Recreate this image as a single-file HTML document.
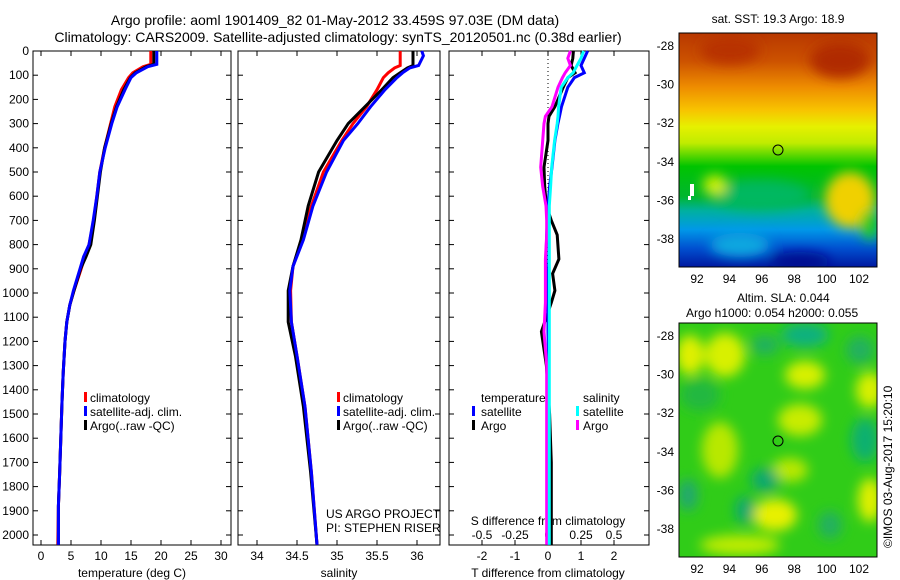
<!DOCTYPE html>
<html><head><meta charset="utf-8"><style>
html,body{margin:0;padding:0;background:#fff;}
svg{display:block;font-family:"Liberation Sans",sans-serif;}
text{font-size:12px;fill:#000;}
</style></head><body>
<svg id="fig" width="900" height="580" viewBox="0 0 900 580">
<defs>
<clipPath id="c1"><rect x="679" y="33" width="198" height="234"/></clipPath>
<clipPath id="c2"><rect x="679" y="323" width="198" height="234"/></clipPath>
<filter id="bl" x="-20%" y="-20%" width="140%" height="140%"><feGaussianBlur stdDeviation="6"/></filter>
<linearGradient id="sst" x1="0" y1="33" x2="0" y2="267" gradientUnits="userSpaceOnUse">
<stop offset="0" stop-color="#b83800"/><stop offset="0.12" stop-color="#cc5200"/>
<stop offset="0.23" stop-color="#ee8c00"/><stop offset="0.33" stop-color="#f8c400"/>
<stop offset="0.40" stop-color="#e6f000"/><stop offset="0.47" stop-color="#c0ec00"/>
<stop offset="0.52" stop-color="#60d800"/><stop offset="0.57" stop-color="#00c400"/>
<stop offset="0.70" stop-color="#00b630"/><stop offset="0.76" stop-color="#00b0a0"/>
<stop offset="0.84" stop-color="#0098e8"/><stop offset="0.92" stop-color="#0050d0"/>
<stop offset="1" stop-color="#0018a0"/></linearGradient>
</defs>
<g>
<text x="335" y="25" text-anchor="middle" style="font-size:14px">Argo profile: aoml 1901409_82 01-May-2012 33.459S 97.03E (DM data)</text>
<text x="338" y="42" text-anchor="middle" style="font-size:14px">Climatology: CARS2009. Satellite-adjusted climatology: synTS_20120501.nc (0.38d earlier)</text>
</g>
<g id="axes"></g>
<g id="lines"></g>
<g>
<rect x="84" y="392" width="3" height="10" fill="#f00"/><text x="90" y="402">climatology</text>
<rect x="84" y="406" width="3" height="10" fill="#00f"/><text x="90" y="416">satellite-adj. clim.</text>
<rect x="84" y="420" width="3" height="10" fill="#000"/><text x="90" y="430">Argo(..raw -QC)</text>
</g>
<g>
<rect x="337" y="392" width="3" height="10" fill="#f00"/><text x="343" y="402">climatology</text>
<rect x="337" y="406" width="3" height="10" fill="#00f"/><text x="343" y="416">satellite-adj. clim.</text>
<rect x="337" y="420" width="3" height="10" fill="#000"/><text x="343" y="430">Argo(..raw -QC)</text>
</g>
<g>
<text x="326" y="518">US ARGO PROJECT</text><text x="326" y="532">PI: STEPHEN RISER</text>
</g>
<g>
<text x="481" y="402">temperature</text><text x="583" y="402">salinity</text>
<rect x="472" y="406" width="3" height="10" fill="#00f"/><text x="481" y="416">satellite</text>
<rect x="472" y="420" width="3" height="10" fill="#000"/><text x="481" y="430">Argo</text>
<rect x="576" y="406" width="3" height="10" fill="#0ff"/><text x="583" y="416">satellite</text>
<rect x="576" y="420" width="3" height="10" fill="#f0f"/><text x="583" y="430">Argo</text>
</g>
<g>
<text x="778" y="23" text-anchor="middle">sat. SST: 19.3 Argo: 18.9</text>
<g clip-path="url(#c1)">
<rect x="679" y="33" width="198" height="234" fill="url(#sst)"/>
<g filter="url(#bl)">
<ellipse cx="840" cy="60" rx="30" ry="18" fill="#b02c00"/>
<ellipse cx="730" cy="50" rx="30" ry="14" fill="#b83000"/>
<ellipse cx="850" cy="200" rx="25" ry="28" fill="#f0d000"/>
<ellipse cx="870" cy="225" rx="10" ry="15" fill="#20c820"/>
<ellipse cx="760" cy="195" rx="50" ry="15" fill="#00b860"/>
<ellipse cx="740" cy="245" rx="30" ry="12" fill="#10a8e0"/>
<ellipse cx="800" cy="262" rx="30" ry="10" fill="#001090"/>
<ellipse cx="715" cy="185" rx="12" ry="10" fill="#d0f000"/>
</g>
<rect x="690" y="184" width="4" height="12" fill="#fff"/><rect x="688" y="196" width="3" height="4" fill="#fff"/>
</g>
<rect x="679" y="33" width="198" height="234" fill="none" stroke="#000"/>
<circle cx="778" cy="150" r="5" fill="none" stroke="#000"/>
</g>
<g>
<text x="737" y="302">Altim. SLA: 0.044</text>
<text x="686" y="317">Argo h1000: 0.054 h2000: 0.055</text>
<g clip-path="url(#c2)">
<rect x="679" y="323" width="198" height="234" fill="#30cc18"/>
<g filter="url(#bl)">
<ellipse cx="690" cy="355" rx="14" ry="20" fill="#e0f000"/>
<ellipse cx="725" cy="355" rx="20" ry="22" fill="#d8f000"/>
<ellipse cx="805" cy="375" rx="20" ry="14" fill="#d8f000"/>
<ellipse cx="870" cy="390" rx="14" ry="18" fill="#d8f000"/>
<ellipse cx="800" cy="420" rx="22" ry="16" fill="#c8ec00"/>
<ellipse cx="720" cy="450" rx="18" ry="28" fill="#b8e800"/>
<ellipse cx="790" cy="470" rx="18" ry="12" fill="#b8e800"/>
<ellipse cx="775" cy="515" rx="22" ry="16" fill="#e8f000"/>
<ellipse cx="870" cy="500" rx="12" ry="22" fill="#e0f000"/>
<ellipse cx="740" cy="545" rx="40" ry="10" fill="#c0ec00"/>
<ellipse cx="805" cy="335" rx="24" ry="12" fill="#10b080"/>
<ellipse cx="765" cy="345" rx="14" ry="10" fill="#20b060"/>
<ellipse cx="860" cy="350" rx="14" ry="14" fill="#20b060"/>
<ellipse cx="865" cy="440" rx="14" ry="22" fill="#10b070"/>
<ellipse cx="765" cy="480" rx="14" ry="12" fill="#10a870"/>
<ellipse cx="745" cy="510" rx="10" ry="14" fill="#10a870"/>
<ellipse cx="688" cy="495" rx="10" ry="16" fill="#20a870"/>
<ellipse cx="830" cy="525" rx="12" ry="14" fill="#20b060"/>
<ellipse cx="700" cy="395" rx="20" ry="16" fill="#20b840"/>
</g>
</g>
<rect x="679" y="323" width="198" height="234" fill="none" stroke="#000"/>
<circle cx="778" cy="441" r="5" fill="none" stroke="#000"/>
</g>
<text transform="translate(892,548) rotate(-90)">©IMOS 03-Aug-2017 15:20:10</text>
</svg>
<script>
const depthT=[0,55,65,90,110,160,230,300,400,500,600,700,800,850,900,990,1050,1120,1200,1330,1450,1600,1750,1880,2040];
const tClim=[18.3,18.3,17.0,15.3,14.6,13.4,12.3,11.6,10.6,9.8,9.3,8.8,8.0,7.3,6.7,5.5,4.8,4.3,4.0,3.7,3.5,3.3,3.1,2.9,2.8];
const tSat=[19.3,19.3,17.8,15.9,15.0,14.0,12.7,11.8,10.7,9.8,9.3,8.7,8.0,7.1,6.5,5.4,4.8,4.3,4.0,3.7,3.5,3.3,3.1,2.9,2.9];
const tArgo=[18.8,18.8,17.5,15.7,14.9,13.8,12.6,11.7,10.6,9.9,9.4,8.9,8.3,7.5,6.6,5.5,4.8,4.3,4.0,3.7,3.5,3.3,3.1,2.9,2.9];
const depthS=[0,20,60,70,90,110,160,230,300,370,500,640,780,890,990,1120,1260,1470,1740,2040];
const sClim=[35.79,35.79,35.79,35.72,35.64,35.58,35.5,35.37,35.2,35.06,34.83,34.68,34.56,34.45,34.42,34.43,34.5,34.6,34.68,34.75];
const sSat=[36.06,36.08,36.02,35.91,35.82,35.75,35.6,35.42,35.26,35.08,34.87,34.7,34.58,34.45,34.41,34.43,34.5,34.6,34.68,34.75];
const sArgo=[35.95,35.95,35.95,35.88,35.79,35.7,35.56,35.35,35.14,35.0,34.77,34.64,34.55,34.45,34.39,34.39,34.48,34.58,34.67,34.75];
const depthD=[0,30,60,90,110,150,230,270,300,370,480,560,640,700,760,860,920,990,1040,1160,1300,1500,1700,2040];
const dTsat=[1.2,1.1,1.0,1.1,0.8,0.6,0.41,0.35,0.3,0.21,0.12,0.05,0,-0.02,-0.04,-0.06,-0.04,-0.02,0,0,0.02,0.02,0.02,0.02];
const dTargo=[0.77,0.75,0.7,0.82,0.6,0.46,0.21,0.03,0.0,0.0,-0.12,-0.1,-0.05,0.1,0.28,0.33,0.14,0.21,0.1,-0.2,-0.05,0.05,0.1,0.1];
const dSsat=[0.27,0.25,0.22,0.19,0.15,0.1,0.08,0.076,0.07,0.05,0.028,0.02,0.01,0.01,0.01,0.01,0.01,0.01,0.01,0.01,0.01,0.01,0.01,0.01];
const dSargo=[0.17,0.15,0.17,0.13,0.11,0.076,0.03,-0.02,-0.03,-0.04,-0.055,-0.04,-0.015,-0.01,-0.01,-0.02,-0.02,-0.02,-0.02,-0.03,-0.01,-0.01,-0.01,-0.01];
const depthTicks=[0,100,200,300,400,500,600,700,800,900,1000,1100,1200,1300,1400,1500,1600,1700,1800,1900,2000];
const tTicks=[0,5,10,15,20,25,30];
const sTicks=[34,34.5,35,35.5,36];
const sTickLabels=["34","34.5","35","35.5","36"];
const dtTicks=[-2,-1,0,1,2];
const dsTicks=[-0.5,-0.25,0,0.25,0.5];
const dsTickLabels=["-0.5","-0.25","0","0.25","0.5"];
const latTicks=[-28,-30,-32,-34,-36,-38];
const lonTicks=[92,94,96,98,100,102];

const NS="http://www.w3.org/2000/svg";
const yD=d=>51+d*0.242;
const xT=t=>41+6*t;
const xS=s=>257+80*(s-34);
const xDT=t=>548+33*t;
const xDS=s=>548+132*s;
const axes=document.getElementById('axes'), lines=document.getElementById('lines');
function mk(tag,attrs,parent){const e=document.createElementNS(NS,tag);for(const k in attrs)e.setAttribute(k,attrs[k]);parent.appendChild(e);return e;}
function txt(x,y,s,anchor,parent){const e=mk('text',{x:x,y:y,'text-anchor':anchor},parent);e.textContent=s;return e;}

const panels=[{x0:33,x1:231,name:'temperature-panel'},{x0:238,x1:440,name:'salinity-panel'},{x0:449,x1:649,name:'difference-panel'}];
panels.forEach(p=>{
  const g=mk('g',{},axes);
  
  
  mk('rect',{x:p.x0,y:51,width:p.x1-p.x0,height:494,fill:'none',stroke:'#000'},g);
  depthTicks.forEach(d=>{
    mk('line',{x1:p.x0,x2:p.x0+5,y1:yD(d),y2:yD(d),stroke:'#000'},g);
    mk('line',{x1:p.x1-5,x2:p.x1,y1:yD(d),y2:yD(d),stroke:'#000'},g);
  });
});
const yl=mk('g',{},axes);


depthTicks.forEach(d=>txt(29,yD(d)+4,String(d),'end',yl));

function xticks(ticks,labels,fx,x0,name,ly){
  const g=mk('g',{},axes);
  
  
  ticks.forEach((t,i)=>{const x=fx(t);
    mk('line',{x1:x,x2:x,y1:51,y2:56,stroke:'#000'},g);
    mk('line',{x1:x,x2:x,y1:540,y2:545,stroke:'#000'},g);
    txt(x,ly,labels[i],'middle',g);});
}
xticks(tTicks,tTicks.map(String),xT,33,'temperature-x-ticks',560);
xticks(sTicks,sTickLabels,xS,238,'salinity-x-ticks',560);
xticks(dtTicks,dtTicks.map(String),xDT,449,'t-difference-x-ticks',560);
const dsg=mk('g',{},axes);


dsTicks.forEach((s,i)=>txt(xDS(s),539,dsTickLabels[i],'middle',dsg));
const at=[[132,'temperature (deg C)'],[339,'salinity'],[548,'T difference from climatology']];
at.forEach((a,i)=>{const e=txt(a[0],577,a[1],'middle',axes);
  
  });
const st=txt(548,525,'S difference from climatology','middle',axes);


mk('line',{x1:xDT(0),x2:xDT(0),y1:51,y2:545,stroke:'#000','stroke-dasharray':'1,3'},axes);

// map ticks
[[33,267,'sst-map-axes'],[323,557,'sla-map-axes']].forEach(m=>{
  const g=mk('g',{},axes);
  
  
  const yLat=l=>m[0]+13+(-28-l)*19.3;
  latTicks.forEach(l=>{const y=yLat(l);
    mk('line',{x1:679,x2:683,y1:y,y2:y,stroke:'#000'},g);
    mk('line',{x1:873,x2:877,y1:y,y2:y,stroke:'#000'},g);
    txt(674,y+4,String(l),'end',g);});
  lonTicks.forEach(l=>{const x=697+(l-92)*16.2;
    mk('line',{x1:x,x2:x,y1:m[0],y2:m[0]+4,stroke:'#000'},g);
    mk('line',{x1:x,x2:x,y1:m[1]-4,y2:m[1],stroke:'#000'},g);
    txt(x,m[1]+16,String(l),'middle',g);});
});

function line(vals,depths,fx,color,name){
  const pts=vals.map((v,i)=>fx(v).toFixed(1)+','+yD(depths[i]).toFixed(1)).join(' ');
  const e=mk('polyline',{points:pts,fill:'none',stroke:color,'stroke-width':3,'stroke-linejoin':'miter'},lines);
  
  
}
line(tClim,depthT,xT,'#f00','temperature-climatology-line');
line(tArgo,depthT,xT,'#000','temperature-argo-line');
line(tSat,depthT,xT,'#00f','temperature-satellite-line');
line(sClim,depthS,xS,'#f00','salinity-climatology-line');
line(sArgo,depthS,xS,'#000','salinity-argo-line');
line(sSat,depthS,xS,'#00f','salinity-satellite-line');
line(dTargo,depthD,xDT,'#000','t-diff-argo-line');
line(dTsat,depthD,xDT,'#00f','t-diff-satellite-line');
line(dSargo,depthD,xDS,'#f0f','s-diff-argo-line');
line(dSsat,depthD,xDS,'#0ff','s-diff-satellite-line');
</script>
</body></html>
